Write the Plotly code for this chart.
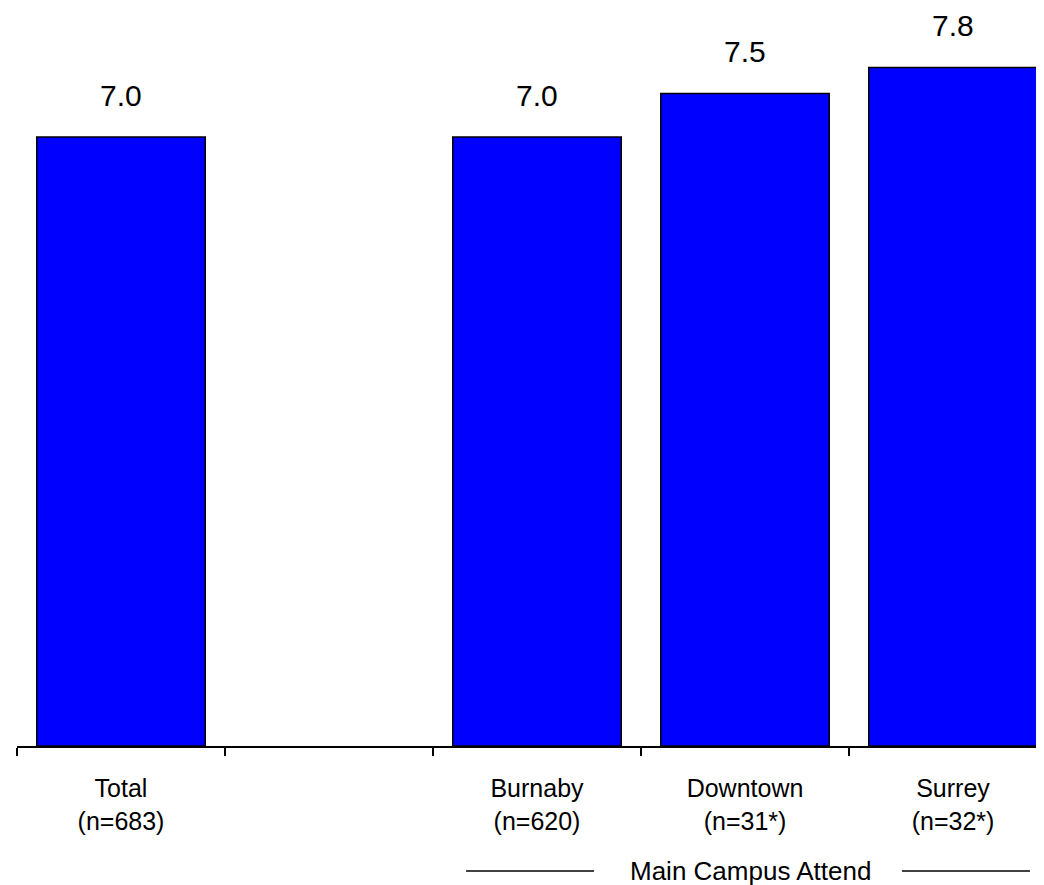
import plotly.graph_objects as go

categories = ["Total", " ", "Burnaby", "Downtown", "Surrey"]
sample_sizes = ["(n=683)", "", "(n=620)", "(n=31*)", "(n=32*)"]
values = [7.0, None, 7.0, 7.5, 7.8]
value_labels = ["7.0", "", "7.0", "7.5", "7.8"]
group_label = "Main Campus Attend"

FONT = "Liberation Sans, Arial, sans-serif"

tick_text = [f"{c}<br>{n}" if n else "" for c, n in zip(categories, sample_sizes)]

fig = go.Figure()
fig.add_trace(go.Bar(
    x=categories,
    y=values,
    marker=dict(color="#0000FF", line=dict(color="black", width=1.5)),
    hoverinfo="skip",
))

for c, v, t in zip(categories, values, value_labels):
    if v is None:
        continue
    fig.add_annotation(x=c, y=v, text=t, showarrow=False, xref="x", yref="y",
                       yanchor="middle", yshift=42,
                       font=dict(family=FONT, size=30, color="black"))

GY = -0.1694
fig.add_annotation(x=3.026, y=GY, xref="x", yref="paper", text=group_label,
                   showarrow=False, yanchor="middle", borderpad=0,
                   font=dict(family=FONT, size=26, color="black"))
fig.add_shape(type="line", xref="x", yref="paper", x0=1.659, x1=2.274,
              y0=GY, y1=GY, line=dict(color="black", width=1.5))
fig.add_shape(type="line", xref="x", yref="paper", x0=3.755, x1=4.37,
              y0=GY, y1=GY, line=dict(color="black", width=1.5))

fig.update_layout(
    width=1044, height=885,
    margin=dict(l=9, r=0, t=0, b=147),
    paper_bgcolor="white", plot_bgcolor="white",
    showlegend=False,
    bargap=0.19,
    xaxis=dict(
        type="category",
        categoryorder="array", categoryarray=categories,
        tickmode="array", tickvals=categories, ticktext=tick_text,
        tickson="boundaries",
        range=[-0.5, 4.476],
        showline=True, linecolor="black", linewidth=2,
        ticks="outside", ticklen=8, tickcolor="black", tickwidth=1.5,
        ticklabelstandoff=19,
        showgrid=False, zeroline=False,
        tickfont=dict(family=FONT, size=25, color="black"),
        fixedrange=True,
    ),
    yaxis=dict(
        range=[0, 8.483],
        visible=False, showgrid=False, zeroline=False,
        fixedrange=True,
    ),
)

fig.write_html("out.html")
